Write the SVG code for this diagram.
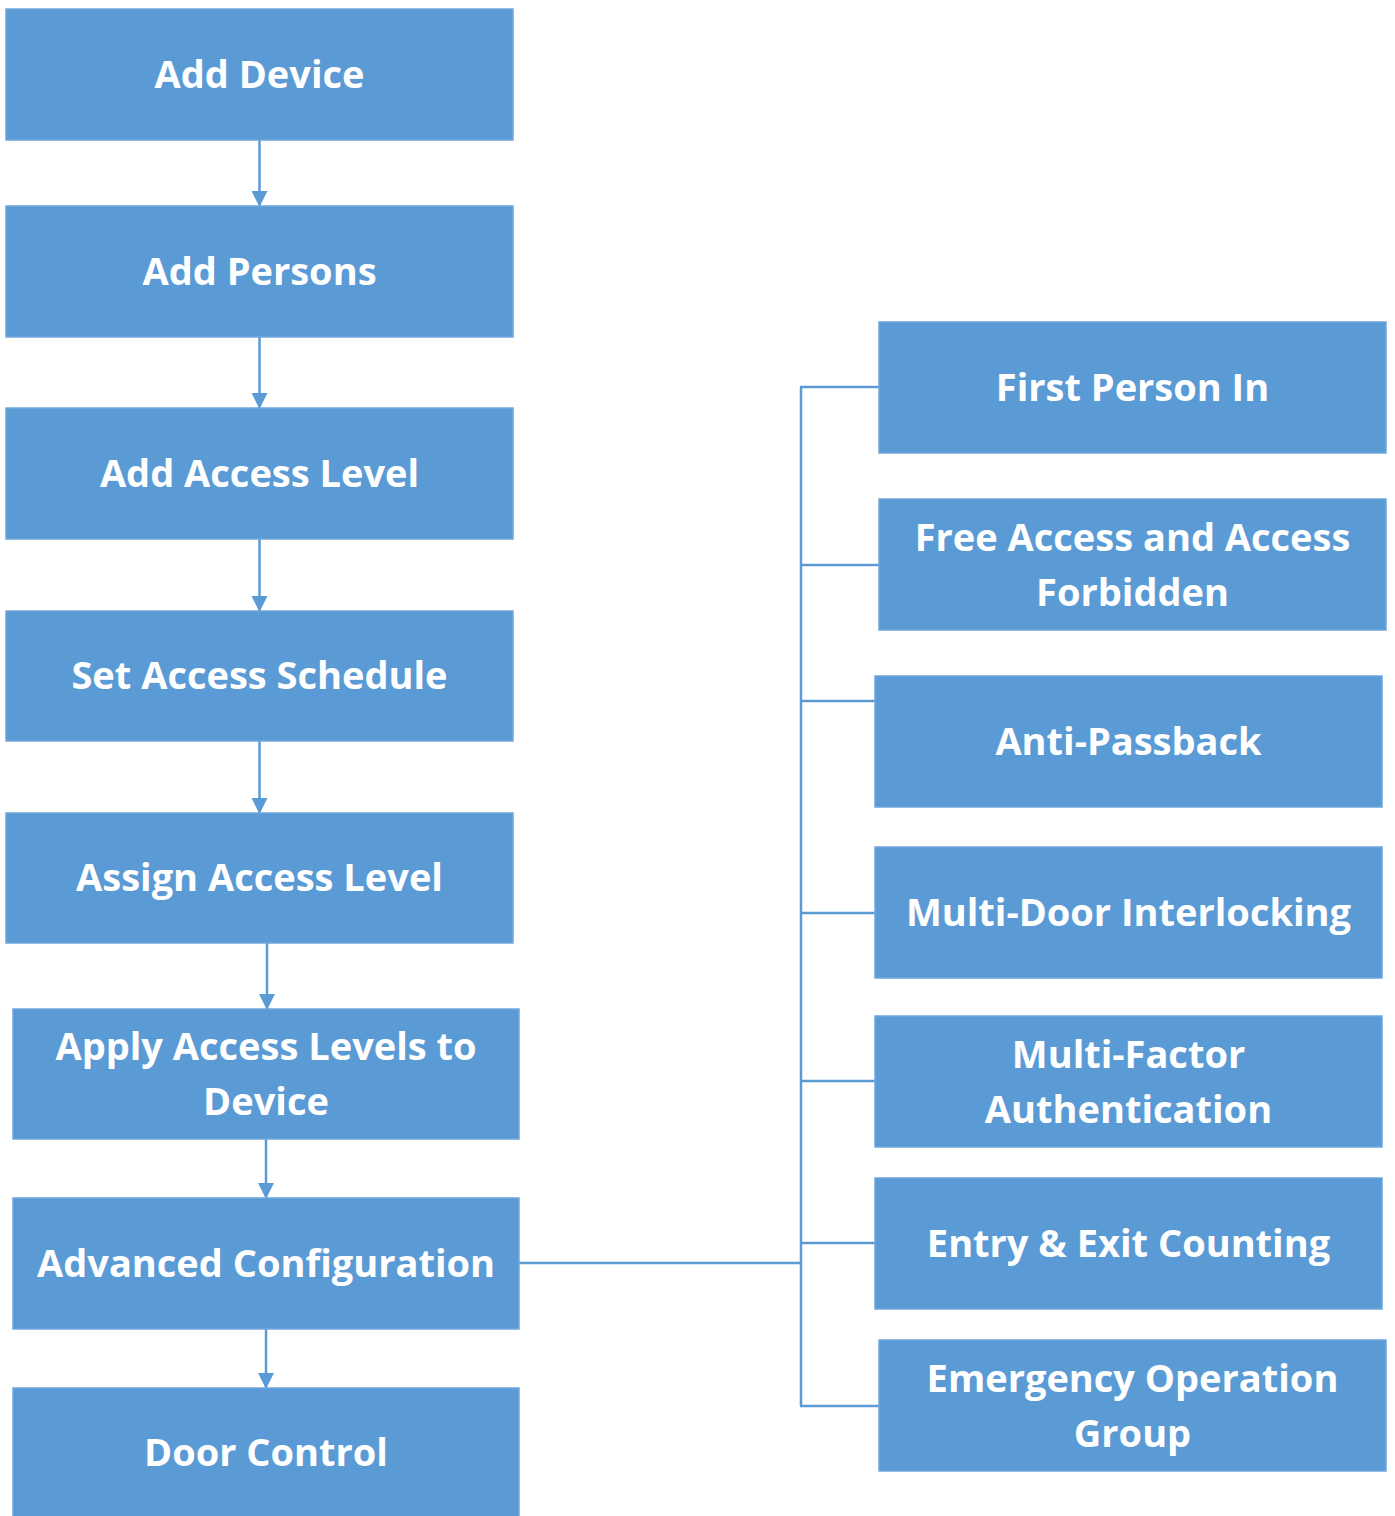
<svg xmlns="http://www.w3.org/2000/svg" width="1395" height="1516" viewBox="0 0 1395 1516">
<style>
.box{fill:#5B9BD5;stroke:#6FA7DA;stroke-width:1.5}
.lbl{font-family:"Open Sans","Noto Sans","Liberation Sans",sans-serif;font-weight:bold;font-size:38px;fill:#FFFFFF;text-anchor:middle;font-variant-ligatures:none}
.ln{stroke:#5B9BD5;stroke-width:2.5;fill:none}
</style>
<defs>
<marker id="ah" markerWidth="16" markerHeight="16" refX="15" refY="8" orient="auto" markerUnits="userSpaceOnUse">
<path d="M0,0 L16,8 L0,16 Z" fill="#5B9BD5"/>
</marker>
</defs>
<rect width="1395" height="1516" fill="#FFFFFF"/>
<g id="connectors">
<line class="ln" x1="259.5" y1="140" x2="259.5" y2="206" marker-end="url(#ah)"/>
<line class="ln" x1="259.5" y1="337" x2="259.5" y2="408" marker-end="url(#ah)"/>
<line class="ln" x1="259.5" y1="539" x2="259.5" y2="611" marker-end="url(#ah)"/>
<line class="ln" x1="259.5" y1="741" x2="259.5" y2="813" marker-end="url(#ah)"/>
<line class="ln" x1="267" y1="943" x2="267" y2="1009" marker-end="url(#ah)"/>
<line class="ln" x1="266" y1="1139" x2="266" y2="1198" marker-end="url(#ah)"/>
<line class="ln" x1="266" y1="1329" x2="266" y2="1388" marker-end="url(#ah)"/>
<line class="ln" x1="519" y1="1263" x2="801" y2="1263"/>
<line class="ln" x1="801" y1="387" x2="801" y2="1406"/>
<line class="ln" x1="800" y1="387" x2="879" y2="387"/>
<line class="ln" x1="800" y1="565" x2="879" y2="565"/>
<line class="ln" x1="800" y1="701" x2="875" y2="701"/>
<line class="ln" x1="800" y1="913" x2="875" y2="913"/>
<line class="ln" x1="800" y1="1081" x2="875" y2="1081"/>
<line class="ln" x1="800" y1="1243" x2="875" y2="1243"/>
<line class="ln" x1="800" y1="1406" x2="879" y2="1406"/>
</g>
<g id="add-device"><rect class="box" x="6" y="9" width="507" height="131"/><text class="lbl" x="259.5" y="88">Add Device</text></g>
<g id="add-persons"><rect class="box" x="6" y="206" width="507" height="131"/><text class="lbl" x="259.5" y="285">Add Persons</text></g>
<g id="add-access-level"><rect class="box" x="6" y="408" width="507" height="131"/><text class="lbl" x="259.5" y="487">Add Access Level</text></g>
<g id="set-access-schedule"><rect class="box" x="6" y="611" width="507" height="130"/><text class="lbl" x="259.5" y="689">Set Access Schedule</text></g>
<g id="assign-access-level"><rect class="box" x="6" y="813" width="507" height="130"/><text class="lbl" x="259.5" y="891">Assign Access Level</text></g>
<g id="apply-access-levels"><rect class="box" x="13" y="1009" width="506" height="130"/><text class="lbl" x="266" y="1060">Apply Access Levels to</text><text class="lbl" x="266" y="1115">Device</text></g>
<g id="advanced-configuration"><rect class="box" x="13" y="1198" width="506" height="131"/><text class="lbl" x="266" y="1277">Advanced Configuration</text></g>
<g id="door-control"><rect class="box" x="13" y="1388" width="506" height="130"/><text class="lbl" x="266" y="1466">Door Control</text></g>
<g id="first-person-in"><rect class="box" x="879" y="322" width="507" height="131"/><text class="lbl" x="1132.5" y="401">First Person In</text></g>
<g id="free-access"><rect class="box" x="879" y="499" width="507" height="131"/><text class="lbl" x="1132.5" y="551">Free Access and Access</text><text class="lbl" x="1132.5" y="606">Forbidden</text></g>
<g id="anti-passback"><rect class="box" x="875" y="676" width="507" height="131"/><text class="lbl" x="1128.5" y="755">Anti-Passback</text></g>
<g id="multi-door-interlocking"><rect class="box" x="875" y="847" width="507" height="131"/><text class="lbl" x="1128.5" y="926">Multi-Door Interlocking</text></g>
<g id="multi-factor-authentication"><rect class="box" x="875" y="1016" width="507" height="131"/><text class="lbl" x="1128.5" y="1068">Multi-Factor</text><text class="lbl" x="1128.5" y="1123">Authentication</text></g>
<g id="entry-exit-counting"><rect class="box" x="875" y="1178" width="507" height="131"/><text class="lbl" x="1128.5" y="1257">Entry &amp; Exit Counting</text></g>
<g id="emergency-operation-group"><rect class="box" x="879" y="1340" width="507" height="131"/><text class="lbl" x="1132.5" y="1392">Emergency Operation</text><text class="lbl" x="1132.5" y="1447">Group</text></g>
</svg>
